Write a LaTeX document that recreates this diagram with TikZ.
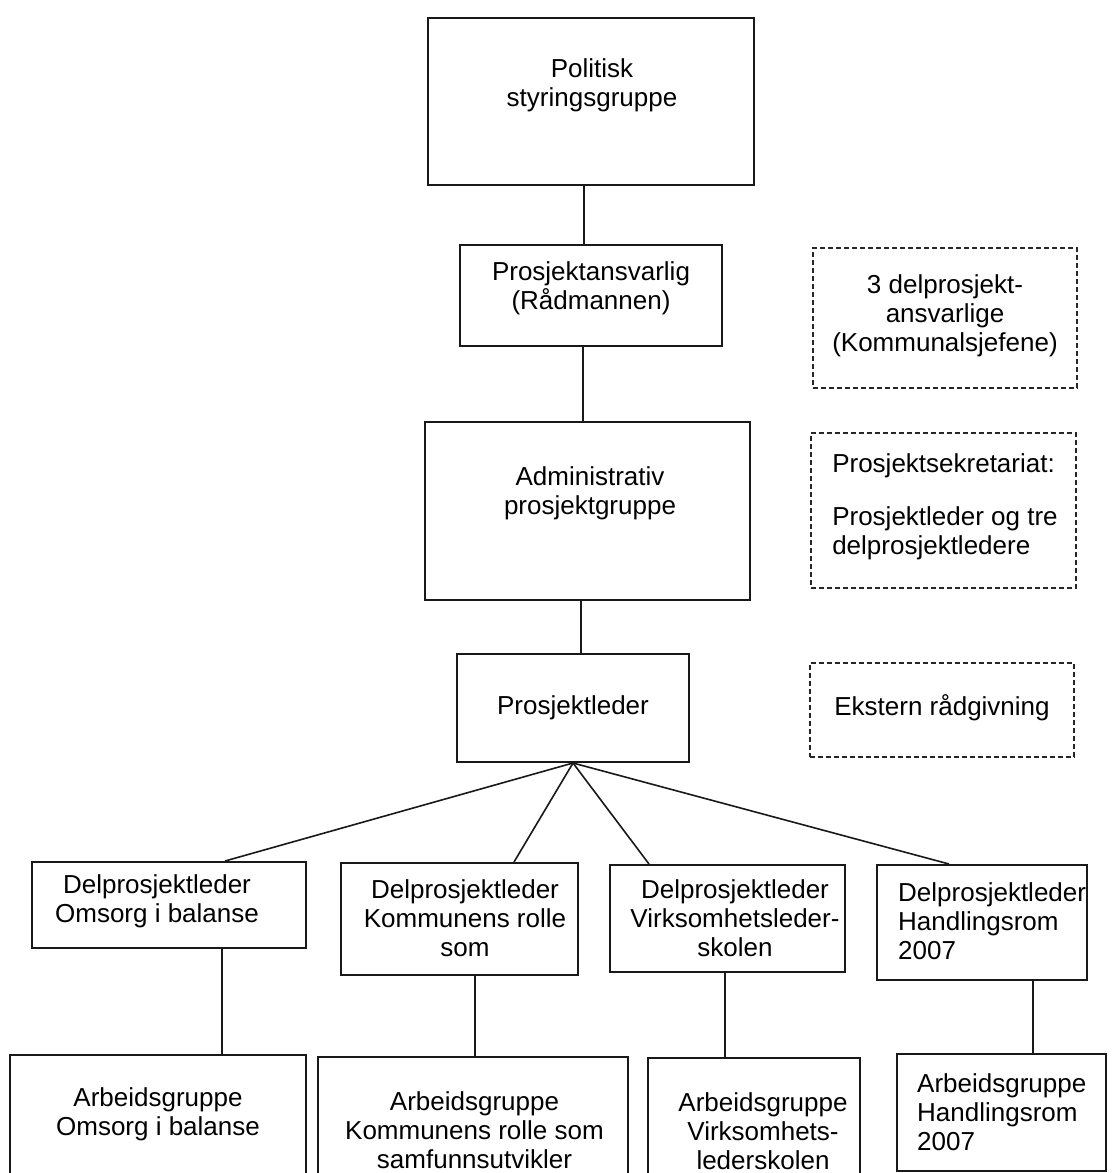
\documentclass[tikz,border=0pt]{standalone}
\usepackage{fontspec}
\setmainfont{Liberation Sans}
\begin{document}
\begin{tikzpicture}[x=1pt,y=-1pt,
  box/.style={draw=black!90, line width=2pt, rectangle, inner sep=0pt},
  dbox/.style={draw=black!85, line width=1.6pt, dash pattern=on 5pt off 3pt, rectangle, inner sep=0pt},
  txt/.style={inner sep=0pt, align=center, font=\fontsize{26}{29}\selectfont},
  ltxt/.style={inner sep=0pt, align=left, font=\fontsize{26}{29}\selectfont},
  conn/.style={draw=black!90, line width=1.6pt}]
\clip (0,0) rectangle (1118,1173);
\fill[white] (0,0) rectangle (1118,1173);

% main column
\node[box, minimum width=326pt, minimum height=167pt] (pol) at (591,101.5) {};
\node[txt] (polT) at (592,85) {Politisk\\styringsgruppe};
\node[box, minimum width=262pt, minimum height=101pt] (pa) at (591,295.5) {};
\node[txt] (paT) at (591,288) {Prosjektansvarlig\\(Rådmannen)};
\node[box, minimum width=325pt, minimum height=178pt] (adm) at (587.5,511) {};
\node[txt] (admT) at (590,493) {Administrativ\\prosjektgruppe};
\node[box, minimum width=232pt, minimum height=108pt] (pl) at (573,708) {};
\node[txt] (plT) at (573,708) {Prosjektleder};

% dashed side boxes
\node[dbox, minimum width=264pt, minimum height=140pt] (s1) at (945,318) {};
\node[txt] (s1T) at (945,316) {3 delprosjekt-\\ansvarlige\\(Kommunalsjefene)};
\node[dbox, minimum width=265pt, minimum height=155pt] (s2) at (943.5,510.5) {};
\node[ltxt] (s2T) at (945,507) {Prosjektsekretariat:\\[24pt]Prosjektleder og tre\\delprosjektledere};
\node[dbox, minimum width=264pt, minimum height=94pt] (s3) at (942,710) {};
\node[txt] (s3T) at (942,708) {Ekstern rådgivning};

% delprosjektledere
\node[box, minimum width=274pt, minimum height=86pt] (d1) at (169,905) {};
\node[txt] (d1T) at (157,901.5) {Delprosjektleder\\Omsorg i balanse};
\node[box, minimum width=237pt, minimum height=112pt] (d2) at (459.5,919) {};
\node[txt] (d2T) at (465,918) {Delprosjektleder\\Kommunens rolle\\som};
\node[box, minimum width=235pt, minimum height=107pt] (d3) at (727.5,918.5) {};
\node[txt] (d3T) at (735,918) {Delprosjektleder\\Virksomhetsleder-\\skolen};
\node[box, minimum width=210pt, minimum height=115pt] (d4) at (982,922.5) {};
\node[ltxt, anchor=west] (d4T) at (898,921) {Delprosjektleder\\Handlingsrom\\2007};

% arbeidsgrupper
\node[box, minimum width=296pt, minimum height=140pt] (a1) at (158,1125) {};
\node[txt] (a1T) at (158,1114) {Arbeidsgruppe\\Omsorg i balanse};
\node[box, minimum width=310pt, minimum height=140pt] (a2) at (473,1127) {};
\node[txt] (a2T) at (474.5,1130.5) {Arbeidsgruppe\\Kommunens rolle som\\samfunnsutvikler};
\node[box, minimum width=212pt, minimum height=140pt] (a3) at (754,1128) {};
\node[txt] (a3T) at (763,1131) {Arbeidsgruppe\\Virksomhets-\\lederskolen};
\node[box, minimum width=209pt, minimum height=117pt] (a4) at (1001.5,1112.5) {};
\node[ltxt, anchor=west] (a4T) at (917,1112.5) {Arbeidsgruppe\\Handlingsrom\\2007};

% helper x positions
\coordinate (v0) at (584,0);
\coordinate (v1) at (583,0);
\coordinate (v2) at (581,0);
\coordinate (f1) at (225,0);
\coordinate (f2) at (514,0);
\coordinate (f3) at (649,0);
\coordinate (f4) at (949,0);
\coordinate (g1) at (222,0);
\coordinate (g2) at (475,0);
\coordinate (g3) at (725,0);
\coordinate (g4) at (1033,0);

% connectors
\draw[conn] (pol.south -| v0) -- (pa.north -| v0);
\draw[conn] (pa.south -| v1) -- (adm.north -| v1);
\draw[conn] (adm.south -| v2) -- (pl.north -| v2);
\draw[conn] (pl.south) -- (d1.north -| f1);
\draw[conn] (pl.south) -- (d2.north -| f2);
\draw[conn] (pl.south) -- (d3.north -| f3);
\draw[conn] (pl.south) -- (d4.north -| f4);
\draw[conn] (d1.south -| g1) -- (a1.north -| g1);
\draw[conn] (d2.south -| g2) -- (a2.north -| g2);
\draw[conn] (d3.south -| g3) -- (a3.north -| g3);
\draw[conn] (d4.south -| g4) -- (a4.north -| g4);
\end{tikzpicture}
\end{document}
